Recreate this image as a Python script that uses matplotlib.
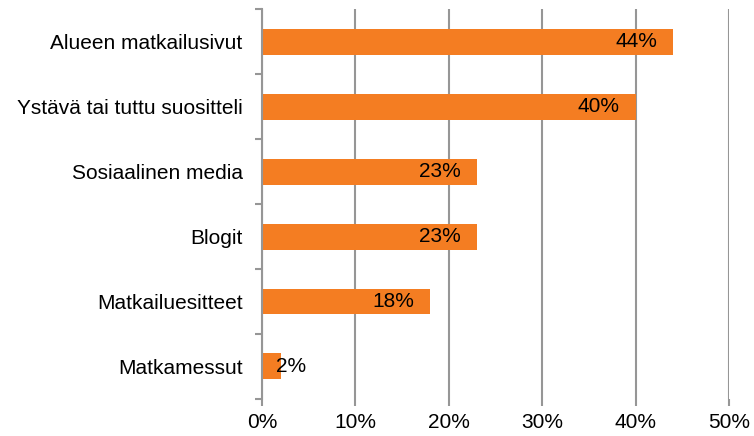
import numpy as np
import matplotlib.pyplot as plt

plt.rcParams['font.family'] = ['Liberation Sans', 'DejaVu Sans']

categories = ['Alueen matkailusivut', 'Ystävä tai tuttu suositteli',
              'Sosiaalinen media', 'Blogit', 'Matkailuesitteet', 'Matkamessut']
values = [44, 40, 23, 23, 18, 2]
xticks = [0, 10, 20, 30, 40, 50]

bar_color = '#F47D22'
grid_color = '#969696'
fs = 15

fig = plt.figure(figsize=(7.54, 4.36), dpi=100)
ax = fig.add_axes([0.3475, 0.085, 0.6193, 0.894])

y = np.arange(len(categories))
ax.barh(y, values, height=0.4, color=bar_color, zorder=3)

for yi, v in zip(y, values):
    if v >= 5:
        ax.text(v - 1.7, yi, f'{v}%', ha='right', va='center', fontsize=fs, zorder=4)
    else:
        ax.text(v - 0.5, yi, f'{v}%', ha='left', va='center', fontsize=fs, zorder=4)

ax.set_xlim(0, 50)
ax.set_ylim(len(categories) - 0.5, -0.5)
ax.set_xticks(xticks)
ax.set_xticklabels([f'{t}%' for t in xticks], fontsize=fs)
ax.set_yticks(y)
ax.set_yticklabels(categories, fontsize=fs)
ax.set_yticks(np.arange(len(categories) + 1) - 0.5, minor=True)

ax.tick_params(axis='y', which='major', length=0, pad=14)
ax.tick_params(axis='y', which='minor', length=5, width=1.5, color=grid_color, direction='out')
ax.tick_params(axis='x', length=5, width=1.5, color=grid_color, direction='out', pad=5)

ax.grid(axis='x', color=grid_color, linewidth=1.5, zorder=0)
for side in ['top', 'right', 'bottom']:
    ax.spines[side].set_visible(False)
ax.spines['left'].set_color(grid_color)
ax.spines['left'].set_linewidth(1.5)
ax.spines['left'].set_zorder(5)

fig.savefig('out.png', dpi=100)
